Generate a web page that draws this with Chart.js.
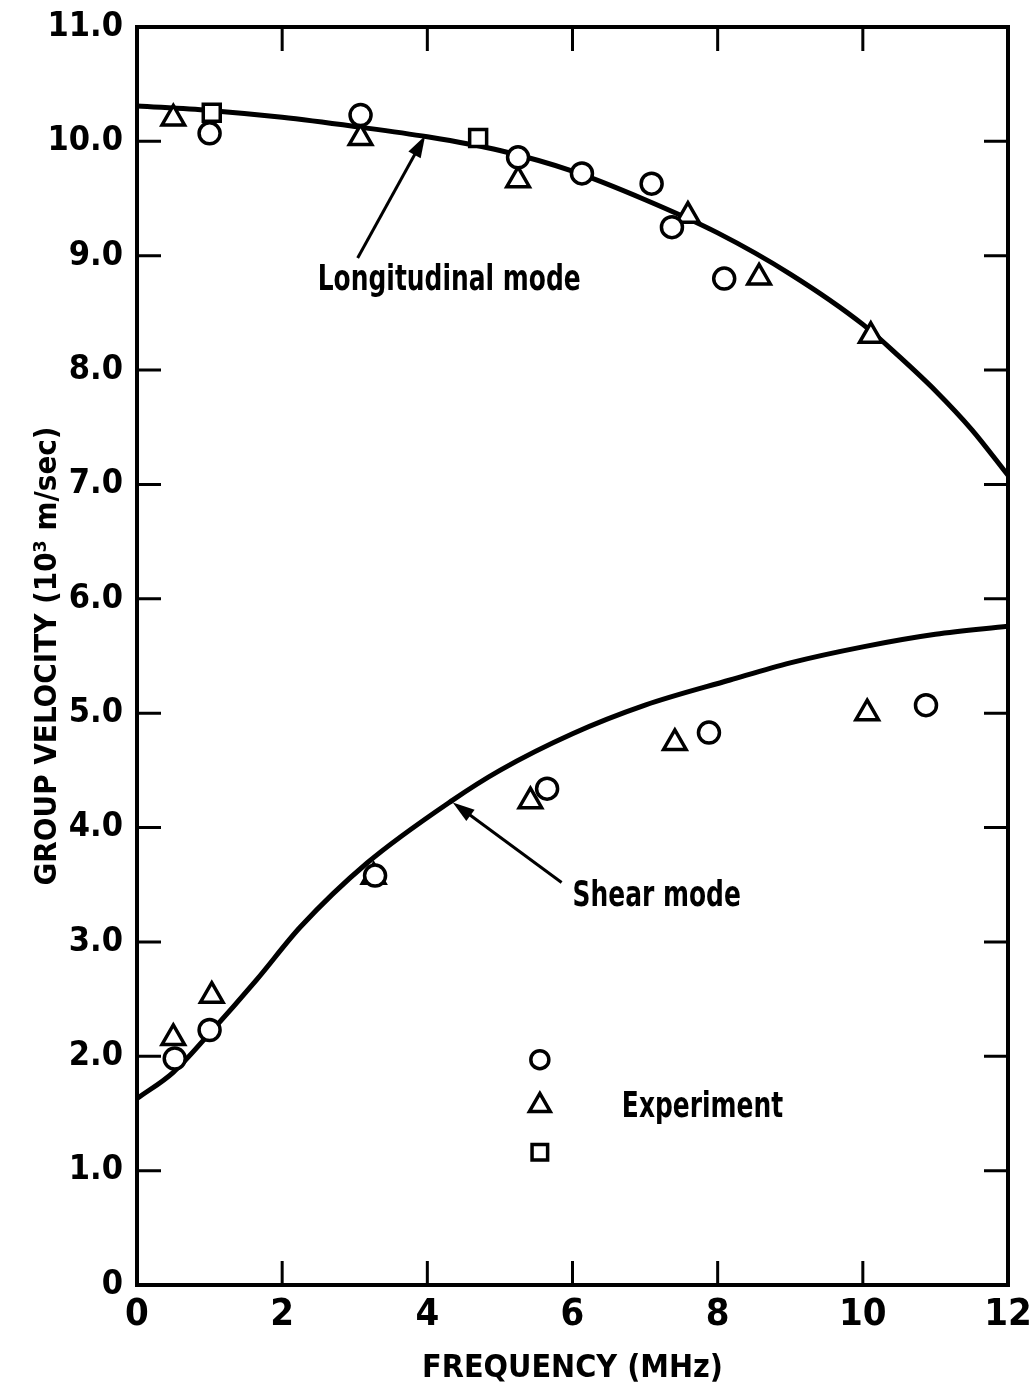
<!DOCTYPE html>
<html>
<head>
<meta charset="utf-8">
<script src="https://cdn.jsdelivr.net/npm/chart.js@4.4.1/dist/chart.umd.min.js"></script>
<style>
html, body { margin: 0; padding: 0; background: #fff; }
#wrap { width: 1033px; height: 1391px; }
</style>
</head>
<body>
<div id="wrap"><canvas id="velChart" width="1033" height="1391"></canvas></div>
<script>
// theory curves
const longFreq = [0, 1, 2, 3, 4, 5, 6, 7, 8, 9, 10, 10.5, 11, 11.5, 12];
const longVel = [10.31, 10.27, 10.21, 10.13, 10.04, 9.92, 9.74, 9.49, 9.2, 8.84, 8.4, 8.12, 7.82, 7.48, 7.08];
const shearFreq = [0, 0.5, 1, 1.65, 2.25, 3.17, 4.35, 5, 6, 7, 8.17, 9, 10, 11, 12];
const shearVel = [1.63, 1.86, 2.2, 2.67, 3.13, 3.69, 4.24, 4.5, 4.82, 5.07, 5.29, 5.44, 5.58, 5.69, 5.76];

// experiment points
const circFreq = [1.0, 3.08, 5.25, 6.13, 7.09, 7.37, 8.09, 0.52, 1.0, 3.28, 5.65, 7.88, 10.87];
const circVel = [10.07, 10.23, 9.86, 9.72, 9.63, 9.25, 8.8, 1.98, 2.23, 3.58, 4.34, 4.83, 5.07];
const triFreq = [0.5, 3.08, 5.25, 7.59, 8.57, 10.11, 0.5, 1.03, 3.26, 5.42, 7.41, 10.06];
const triVel = [10.2, 10.03, 9.66, 9.35, 8.81, 8.3, 2.16, 2.53, 3.57, 4.23, 4.74, 5.0];
const sqFreq = [1.03, 4.7];
const sqVel = [10.25, 10.03];

const xTickLabels = ['0', '2', '4', '6', '8', '10', '12'];
const yTickLabels = ['0', '1.0', '2.0', '3.0', '4.0', '5.0', '6.0', '7.0', '8.0', '9.0', '10.0', '11.0'];

const FONT = "'Liberation Sans Narrow', 'DejaVu Sans Condensed', 'Roboto Condensed', sans-serif";
const TICK = 24;

function pts(xs, ys) {
  return xs.map((x, i) => ({ x: x, y: ys[i] }));
}

// labels + arrows, placed in data units
const notes = {
  longText: { x: 2.49, y: 8.78, text: 'Longitudinal mode' },
  longArrow: { from: [3.04, 8.98], to: [3.97, 10.05] },
  shearText: { x: 6.0, y: 3.4, text: 'Shear mode' },
  shearArrow: { from: [5.85, 3.52], to: [4.35, 4.22] },
  legend: { x: 5.55, ys: [1.97, 1.57, 1.16], styles: ['circle', 'triangle', 'rect'], radii: [10, 13, 12], textX: 6.68, textY: 1.55, text: 'Experiment' }
};

function arrow(ctx, x1, y1, x2, y2) {
  const a = Math.atan2(y2 - y1, x2 - x1);
  const hl = 22, hw = 7;
  ctx.beginPath();
  ctx.moveTo(x1, y1);
  ctx.lineTo(x2 - hl * 0.8 * Math.cos(a), y2 - hl * 0.8 * Math.sin(a));
  ctx.stroke();
  ctx.beginPath();
  ctx.moveTo(x2, y2);
  ctx.lineTo(x2 - hl * Math.cos(a) + hw * Math.sin(a), y2 - hl * Math.sin(a) - hw * Math.cos(a));
  ctx.lineTo(x2 - hl * Math.cos(a) - hw * Math.sin(a), y2 - hl * Math.sin(a) + hw * Math.cos(a));
  ctx.closePath();
  ctx.fill();
}

// narrow lettering, squeezed sideways
function narrowText(ctx, text, px, py) {
  ctx.save();
  ctx.translate(px, py);
  ctx.scale(0.77, 1);
  ctx.fillText(text, 0, 0);
  ctx.restore();
}

const frameBox = {
  id: 'frameBox',
  afterDatasetsDraw(chart) {
    const { ctx, chartArea: { left, right, top, bottom }, scales: { x, y } } = chart;
    ctx.save();
    ctx.strokeStyle = '#000';
    ctx.lineWidth = 4;
    ctx.strokeRect(left, top, right - left, bottom - top);
    ctx.lineWidth = 3;
    ctx.beginPath();
    x.ticks.forEach(t => {
      if (t.value <= x.min || t.value >= x.max) return;
      const px = x.getPixelForValue(t.value);
      ctx.moveTo(px, bottom); ctx.lineTo(px, bottom - TICK);
      ctx.moveTo(px, top); ctx.lineTo(px, top + TICK);
    });
    y.ticks.forEach(t => {
      if (t.value <= y.min || t.value >= y.max) return;
      const py = y.getPixelForValue(t.value);
      ctx.moveTo(left, py); ctx.lineTo(left + TICK, py);
      ctx.moveTo(right, py); ctx.lineTo(right - TICK, py);
    });
    ctx.stroke();
    ctx.restore();
  },
  afterDraw(chart) {
    const { ctx, scales: { x, y } } = chart;
    ctx.save();
    ctx.fillStyle = '#000';
    ctx.strokeStyle = '#000';
    ctx.lineWidth = 3;
    ctx.font = 'bold 36px ' + FONT;
    ctx.textAlign = 'left';
    ctx.textBaseline = 'middle';
    [notes.longText, notes.shearText].forEach(n => {
      narrowText(ctx, n.text, x.getPixelForValue(n.x), y.getPixelForValue(n.y));
    });
    [notes.longArrow, notes.shearArrow].forEach(a => {
      arrow(ctx, x.getPixelForValue(a.from[0]), y.getPixelForValue(a.from[1]),
        x.getPixelForValue(a.to[0]), y.getPixelForValue(a.to[1]));
    });
    const lg = notes.legend;
    narrowText(ctx, lg.text, x.getPixelForValue(lg.textX), y.getPixelForValue(lg.textY));
    lg.ys.forEach((v, i) => {
      ctx.fillStyle = '#fff';
      ctx.strokeStyle = '#000';
      ctx.lineWidth = 3.5;
      Chart.helpers.drawPoint(ctx, { pointStyle: lg.styles[i], radius: lg.radii[i] - 1, borderWidth: 3.5, rotation: 0 },
        x.getPixelForValue(lg.x), y.getPixelForValue(v));
    });
    ctx.restore();
  }
};

const markerBase = {
  showLine: false,
  pointBackgroundColor: '#fff',
  pointBorderColor: '#000',
  pointBorderWidth: 3.5,
  order: 0
};

const ctx = document.getElementById('velChart').getContext('2d');
const velChart = new Chart(ctx, {
  type: 'scatter',
  data: {
    datasets: [
      {
        label: 'Longitudinal mode',
        data: pts(longFreq, longVel),
        showLine: true,
        borderColor: '#000',
        borderWidth: 5,
        pointRadius: 0,
        cubicInterpolationMode: 'monotone',
        order: 1
      },
      {
        label: 'Shear mode',
        data: pts(shearFreq, shearVel),
        showLine: true,
        borderColor: '#000',
        borderWidth: 5,
        pointRadius: 0,
        cubicInterpolationMode: 'monotone',
        order: 1
      },
      Object.assign({ label: 'Experiment (circle)', data: pts(circFreq, circVel), pointStyle: 'circle', pointRadius: 10.5 }, markerBase),
      Object.assign({ label: 'Experiment (triangle)', data: pts(triFreq, triVel), pointStyle: 'triangle', pointRadius: 13 }, markerBase),
      Object.assign({ label: 'Experiment (square)', data: pts(sqFreq, sqVel), pointStyle: 'rect', pointRadius: 12 }, markerBase)
    ]
  },
  options: {
    responsive: false,
    animation: false,
    layout: { padding: { top: 27, right: 25, left: 0, bottom: 0 } },
    plugins: {
      legend: { display: false },
      tooltip: { enabled: false }
    },
    scales: {
      x: {
        type: 'linear',
        min: 0,
        max: 12,
        afterFit(scale) {
          scale.height = 106;
          scale.paddingLeft = 0;
          scale.paddingRight = 0;
        },
        afterBuildTicks(scale) { scale.ticks = xTickLabels.map(v => ({ value: Number(v) })); },
        grid: { display: false, drawTicks: false },
        border: { display: false },
        ticks: {
          padding: 7,
          color: '#000',
          maxRotation: 0,
          font: { family: FONT, size: 38, weight: 'bold' },
          callback: (v) => xTickLabels[xTickLabels.indexOf(String(v))]
        },
        title: {
          display: true,
          text: 'FREQUENCY (MHz)',
          color: '#000',
          font: { family: FONT, size: 32, weight: 'bold', lineHeight: 1 },
          padding: { top: 0, bottom: 6 }
        }
      },
      y: {
        type: 'linear',
        min: 0,
        max: 11,
        afterFit(scale) {
          scale.width = 137;
          scale.paddingTop = 0;
          scale.paddingBottom = 0;
        },
        afterBuildTicks(scale) { scale.ticks = yTickLabels.map(v => ({ value: Number(v) })); },
        grid: { display: false, drawTicks: false },
        border: { display: false },
        ticks: {
          padding: 14,
          color: '#000',
          font: { family: FONT, size: 34, weight: 'bold' },
          callback: (v) => yTickLabels[Math.round(v)]
        },
        title: {
          display: true,
          text: 'GROUP VELOCITY (10³ m/sec)',
          color: '#000',
          font: { family: FONT, size: 31, weight: 'bold', lineHeight: 1 },
          padding: { top: 32, bottom: 0 }
        }
      }
    }
  },
  plugins: [frameBox]
});
</script>
</body>
</html>
